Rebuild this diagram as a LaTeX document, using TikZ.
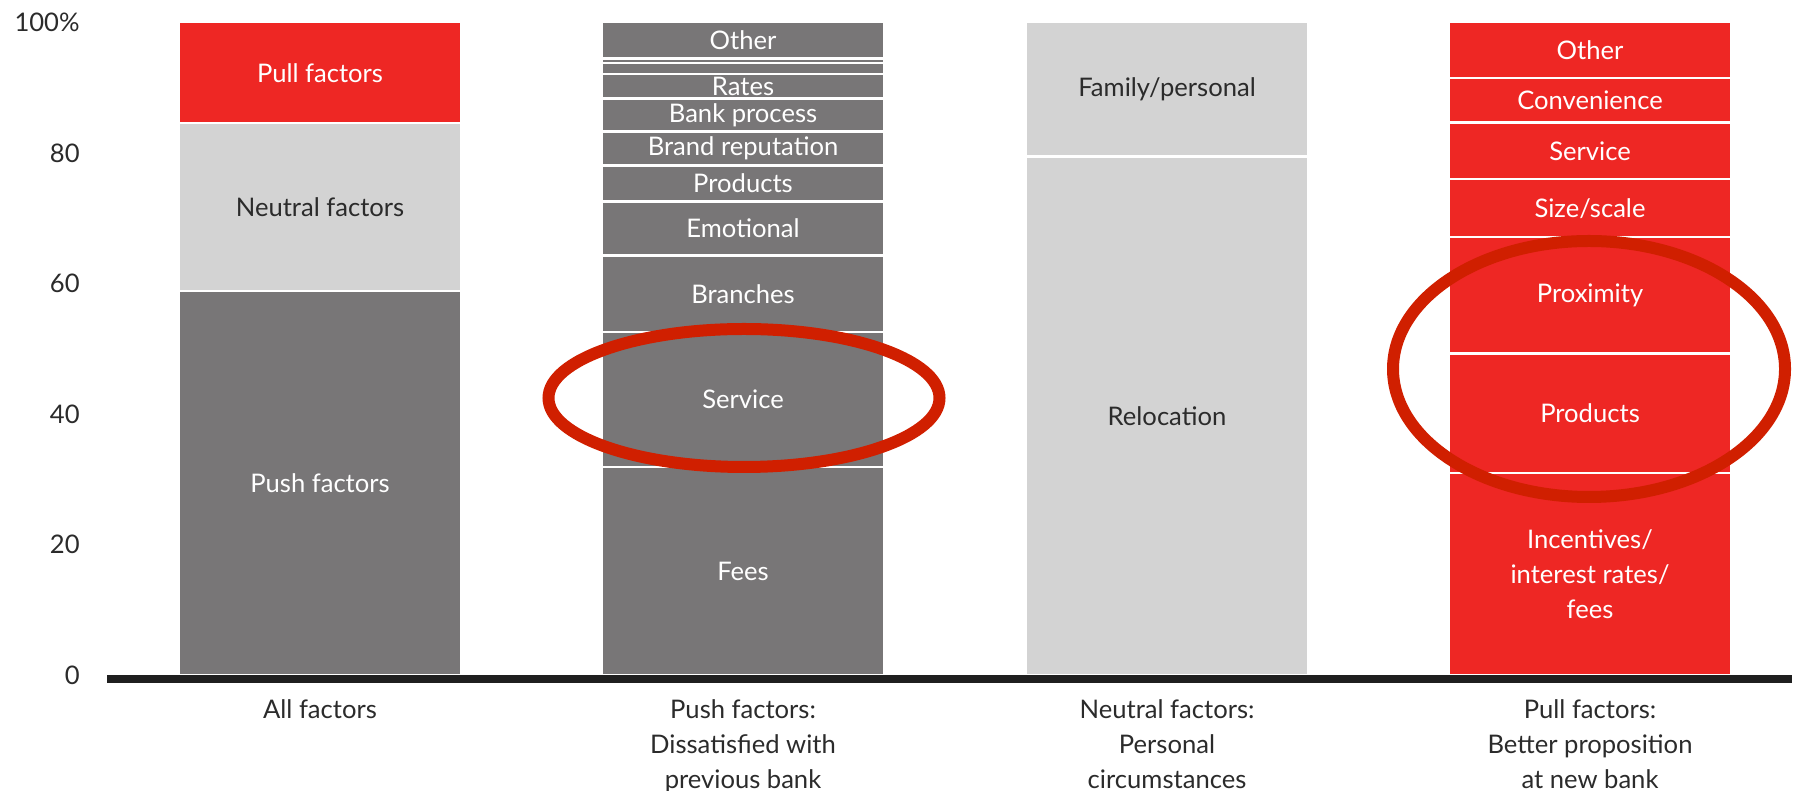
\documentclass[tikz,border=0pt]{standalone}
\usepackage{fontspec}
\setmainfont{Lato}
\definecolor{pullred}{HTML}{EE2724}
\definecolor{pushgray}{HTML}{787677}
\definecolor{neutralgray}{HTML}{D3D3D3}
\definecolor{ringred}{HTML}{D01F00}
\definecolor{inkgray}{HTML}{2B2B2B}

\begin{document}
\begin{tikzpicture}[x=0.5pt, y=0.5pt, font=\fontsize{12.8}{17.5}\selectfont,
    seglabel/.style={align=center, inner sep=0pt},
    sepline/.style={white, line width=1.2pt},
    ring/.style={ringred, line width=6pt},
    ticklabel/.style={anchor=east, text=inkgray, inner sep=0pt},
    catlabel/.style={anchor=north, align=center, text=inkgray, inner sep=0pt}]
    \useasboundingbox (0,0) rectangle (1802,791);

    \pgfmathsetmacro{\W}{280}

    % bars, y in percent
    \begin{scope}[shift={(0,116)}, y=3.2615pt]
        % all factors
        \foreach \lo/\hi/\col/\tc/\txt [count=\i] in {0/58.9/pushgray/white/{Push factors}, 58.9/84.6/neutralgray/inkgray/{Neutral factors}, 84.6/100/pullred/white/{Pull factors}} {
            \fill[\col] (180,\lo) rectangle ({180+\W},\hi);
            \draw[sepline] (180,\lo) -- ({180+\W},\lo);
            \node[seglabel, text=\tc] (all\i) at ({180+\W/2},{(\lo+\hi)/2}) {\txt};
        }
        % push factors
        \foreach \lo/\hi/\txt [count=\i] in {0/31.9/Fees, 31.9/52.6/Service, 52.6/64.3/Branches, 64.3/72.6/Emotional, 72.6/78.1/Products, 78.1/83.3/{Brand reputation}, 83.3/88.4/{Bank process}, 88.4/92.1/Rates, 92.1/93.8/{}, 93.8/94.5/{}, 94.5/100/Other} {
            \fill[pushgray] (603,\lo) rectangle ({603+\W},\hi);
            \draw[sepline] (603,\lo) -- ({603+\W},\lo);
            \node[seglabel, text=white] (push\i) at ({603+\W/2},{(\lo+\hi)/2}) {\txt};
        }
        % neutral factors
        \foreach \lo/\hi/\txt [count=\i] in {0/79.5/Relocation, 79.5/100/{Family/personal}} {
            \fill[neutralgray] (1027,\lo) rectangle ({1027+\W},\hi);
            \draw[sepline] (1027,\lo) -- ({1027+\W},\lo);
            \node[seglabel, text=inkgray] (neut\i) at ({1027+\W/2},{(\lo+\hi)/2}) {\txt};
        }
        % pull factors
        \foreach \lo/\hi/\txt [count=\i] in {0/31.0/{Incentives/\\interest rates/\\fees}, 31.0/49.3/Products, 49.3/67.1/Proximity, 67.1/76.0/{Size/scale}, 76.0/84.7/Service, 84.7/91.5/Convenience, 91.5/100/Other} {
            \fill[pullred] (1450,\lo) rectangle ({1450+\W},\hi);
            \draw[sepline] (1450,\lo) -- ({1450+\W},\lo);
            \node[seglabel, text=white] (pull\i) at ({1450+\W/2},{(\lo+\hi)/2}) {\txt};
        }
        % y ticks
        \foreach \v in {0,20,40,60,80} {
            \node[ticklabel] (tick\v) at (80,\v) {\v};
        }
        \node[ticklabel] (tick100) at (80,100) {100\%};
    \end{scope}

    % axis
    \coordinate (axisL) at (107,112);
    \coordinate (axisR) at (1792,112);
    \draw[line width=4pt, black!88] (axisL) -- (axisR);

    % categories
    \node[catlabel] (catAll) at (320,92) {All factors};
    \node[catlabel] (catPush) at (743,92) {Push factors:\\Dissatisfied with\\previous bank};
    \node[catlabel] (catNeut) at (1167,92) {Neutral factors:\\Personal\\circumstances};
    \node[catlabel] (catPull) at (1590,92) {Pull factors:\\Better proposition\\at new bank};

    % highlights
    \coordinate (R1) at (744,393);
    \coordinate (R2) at (1589,422);
    \draw[ring] (R1) ellipse (195.5 and 69);
    \draw[ring] (R2) ellipse (196 and 128);
\end{tikzpicture}
\end{document}
